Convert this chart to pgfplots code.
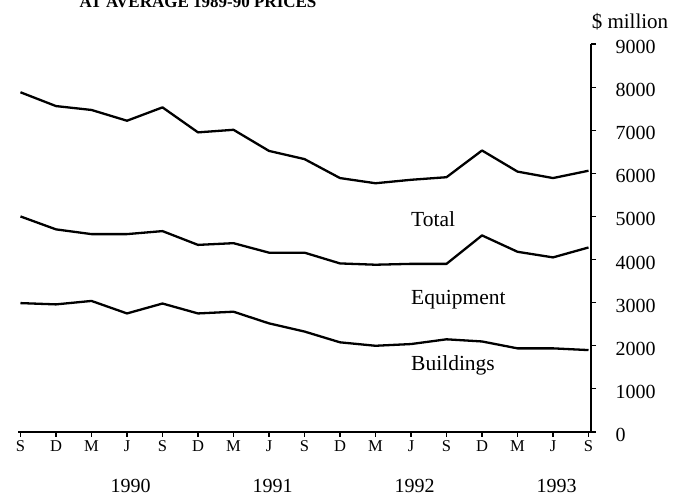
\documentclass[border=0pt]{standalone}
\usepackage{pgfplots}
\pgfplotsset{compat=1.18}
\usepackage{fontspec}
\setmainfont{Liberation Serif}
\begin{document}
\begin{tikzpicture}
\begin{axis}[
  scale only axis,
  width=573pt, height=388pt,
  xmin=-0.07, xmax=16.07,
  ymin=0, ymax=9000,
  axis x line=bottom, axis y line=right,
  x axis line style={-, line width=1.5pt},
  y axis line style={-, line width=1.5pt},
  xtick={0,...,16},
  xticklabels={S,D,M,J,S,D,M,J,S,D,M,J,S,D,M,J,S},
  ytick={0,1000,...,9000},
  tick align=outside,
  major tick length=5pt,
  tick style={line width=1.2pt, black},
  /pgf/number format/1000 sep={},
  /pgf/number format/assume math mode=true,
  yticklabel style={anchor=west, xshift=16pt, yshift=-3pt, font=\fontsize{20}{23}\selectfont},
  xticklabel style={font=\fontsize{16.5}{19}\selectfont},
  clip=false,
]
\addplot[black, line width=2.3pt, line join=round] coordinates {
(0,7880) (1,7560) (2,7470) (3,7220) (4,7530) (5,6950) (6,7010) (7,6520) (8,6330)
(9,5890) (10,5770) (11,5850) (12,5910) (13,6530) (14,6040) (15,5890) (16,6060)};
\addplot[black, line width=2.3pt, line join=round] coordinates {
(0,5000) (1,4700) (2,4590) (3,4590) (4,4660) (5,4340) (6,4380) (7,4160) (8,4160)
(9,3910) (10,3880) (11,3900) (12,3900) (13,4560) (14,4180) (15,4050) (16,4280)};
\addplot[black, line width=2.3pt, line join=round] coordinates {
(0,2990) (1,2960) (2,3040) (3,2750) (4,2980) (5,2750) (6,2790) (7,2520) (8,2330)
(9,2080) (10,2000) (11,2040) (12,2150) (13,2100) (14,1940) (15,1940) (16,1900)};
\node[anchor=west, inner sep=0pt, font=\fontsize{21.5}{24}\selectfont] at (axis cs:11,4940) {Total};
\node[anchor=west, inner sep=0pt, font=\fontsize{21.5}{24}\selectfont] at (axis cs:11,3060) {Equipment};
\node[anchor=west, inner sep=0pt, font=\fontsize{21.5}{24}\selectfont] at (axis cs:11,1555) {Buildings};
\node[font=\fontsize{20}{23}\selectfont, inner sep=1pt] at (axis cs:3.1,0) [yshift=-54pt] {1990};
\node[font=\fontsize{20}{23}\selectfont, inner sep=1pt] at (axis cs:7.1,0) [yshift=-54pt] {1991};
\node[font=\fontsize{20}{23}\selectfont, inner sep=1pt] at (axis cs:11.1,0) [yshift=-54pt] {1992};
\node[font=\fontsize{20}{23}\selectfont, inner sep=1pt] at (axis cs:15.1,0) [yshift=-54pt] {1993};
\node[font=\fontsize{21}{24}\selectfont, inner sep=1pt] at (rel axis cs:1,1) [xshift=39pt, yshift=22pt] {\$ million};
\node[font=\bfseries\fontsize{17}{20}\selectfont, anchor=base] at (rel axis cs:0,1) [xshift=180pt, yshift=36pt] {AT AVERAGE 1989-90 PRICES};
\coordinate (SW) at (rel axis cs:0,0);
\coordinate (NE) at (rel axis cs:1,1);
\end{axis}
\pgfresetboundingbox
\path[use as bounding box] ([shift={(-18pt,-65pt)}]SW) rectangle ([shift={(82pt,44pt)}]NE);
\end{tikzpicture}
\end{document}
